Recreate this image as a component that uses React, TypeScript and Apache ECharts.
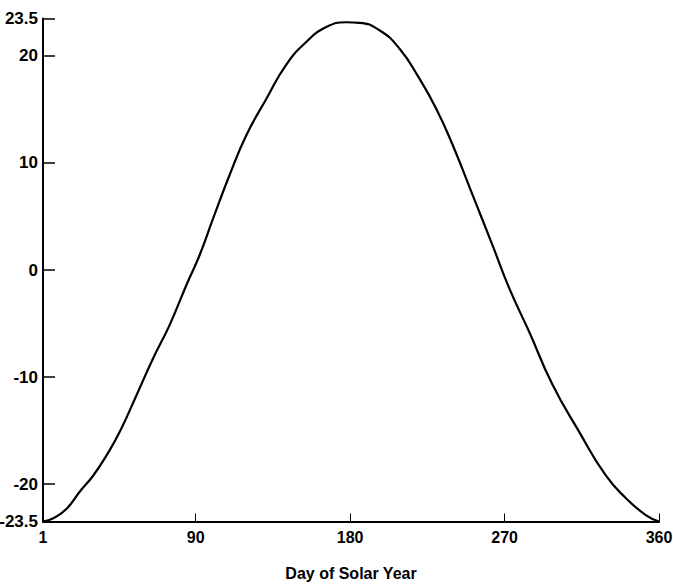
import React, { useEffect, useRef } from "react";
import * as echarts from "echarts";

// Day of solar year (x)
const days = [1, 7, 14.8, 22.5, 30.3, 38.1, 45.8, 55.5, 65.2, 74.9, 84.6, 92.3, 100.1, 109.8, 119.5, 131.2, 142.8, 154.4, 166.1, 177.7, 185.4, 197.1, 208.7, 220.3, 230.1, 239.7, 251.4, 263, 272.7, 284.4, 297.9, 313.4, 329, 340.6, 352.3, 360];
// Solar declination in degrees (y)
const declination = [-23.5, -23.2, -22.3, -20.7, -19.2, -17.3, -15.1, -11.7, -8.25, -5.1, -1.4, 1.4, 4.8, 8.9, 12.6, 16.0, 19.2, 21.3, 22.7, 23.15, 23.1, 22.4, 20.7, 17.9, 15.1, 11.7, 7.0, 2.3, -1.7, -5.8, -10.7, -15.1, -19.2, -21.3, -22.9, -23.5];

const xTicks = [1, 90, 180, 270, 360];
const yTicks = [-23.5, -20, -10, 0, 10, 20, 23.5];
const xTitle = "Day of Solar Year";

export default function App() {
  const ref = useRef<HTMLDivElement>(null);
  useEffect(() => {
    if (!ref.current) return;
    const chart = echarts.init(ref.current, null, { renderer: "svg" });
    const font = "'Liberation Sans', Arial, sans-serif";
    chart.setOption({
      animation: false,
      backgroundColor: "#ffffff",
      grid: { left: 43, right: 14, top: 18.5, bottom: 65.5, containLabel: false, outerBoundsMode: "none" },
      xAxis: {
        type: "value",
        min: 1,
        max: 360,
        name: xTitle,
        nameLocation: "middle",
        nameGap: 44,
        nameTextStyle: { color: "#000", fontSize: 16, fontWeight: "bold", fontFamily: font },
        axisLine: { show: true, onZero: false, lineStyle: { color: "#000", width: 2 } },
        axisTick: { show: true, inside: true, length: 8, customValues: xTicks, lineStyle: { color: "#000", width: 1 } },
        axisLabel: { customValues: xTicks, margin: 8, color: "#000", fontSize: 16, fontWeight: "bold", fontFamily: font, formatter: (v: number) => String(v) },
        splitLine: { show: false },
      },
      yAxis: {
        type: "value",
        min: -23.5,
        max: 23.5,
        axisLine: { show: true, onZero: false, lineStyle: { color: "#000", width: 2 } },
        axisTick: { show: true, inside: true, length: 12, customValues: yTicks, lineStyle: { color: "#000", width: 1.5 } },
        axisLabel: { customValues: yTicks, margin: 5, color: "#000", fontSize: 17, fontWeight: "bold", fontFamily: font, formatter: (v: number) => String(v) },
        splitLine: { show: false },
      },
      series: [
        {
          type: "line",
          data: days.map((d, i) => [d, declination[i]]),
          smooth: 0.5,
          showSymbol: false,
          lineStyle: { color: "#000", width: 2.2 },
          z: 3,
        },
      ],
    });
    return () => chart.dispose();
  }, []);
  return <div ref={ref} style={{ position: "fixed", left: 0, top: 0, width: 673, height: 587, background: "#fff" }} />;
}
